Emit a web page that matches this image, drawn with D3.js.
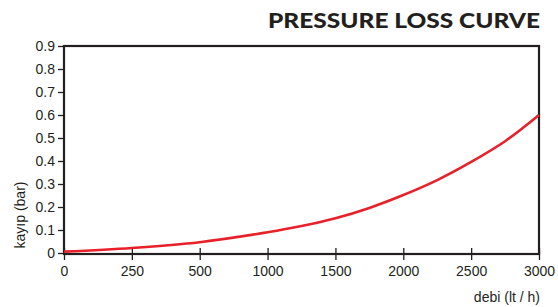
<!DOCTYPE html>
<html>
<head>
<meta charset="utf-8">
<script src="https://cdn.jsdelivr.net/npm/d3@7"></script>
<style>
  body { margin: 0; background: #fff; }
  text { font-family: "Liberation Sans", Arial, sans-serif; fill: #231f20; }
</style>
</head>
<body>
<div id="chart"></div>
<script>
// tick values on the x axis (evenly spaced on the page, not linear)
const xTicks = [0, 250, 500, 1000, 1500, 2000, 2500, 3000];
const yTicks = [0, 0.1, 0.2, 0.3, 0.4, 0.5, 0.6, 0.7, 0.8, 0.9];

// flow (lt/h) and loss (bar)
const flow = [0, 250, 500, 1000, 1250, 1500, 1750, 2000, 2250, 2500, 2750, 3000];
const loss = [0.006, 0.022, 0.047, 0.09, 0.117, 0.151, 0.196, 0.252, 0.317, 0.396, 0.486, 0.6];

const W = 558, H = 307;
const mLeft = 64, mRight = 539, mTop = 46, mBottom = 254;

const svg = d3.select("#chart")
  .append("svg")
  .attr("width", W)
  .attr("height", H);

// piecewise scale so every tick gets the same spacing
const x = d3.scaleLinear()
  .domain(xTicks)
  .range(xTicks.map((d, i) => mLeft + i * (mRight - mLeft) / (xTicks.length - 1)));

const y = d3.scaleLinear()
  .domain([0, 0.9])
  .range([253, mTop]);

// title
svg.append("text")
  .attr("x", 540)
  .attr("y", 28)
  .attr("text-anchor", "end")
  .attr("textLength", 272)
  .attr("lengthAdjust", "spacingAndGlyphs")
  .style("font-family", "Lato, 'DejaVu Sans', sans-serif")
  .style("font-weight", 900)
  .style("font-size", "21px")
  .text("PRESSURE LOSS CURVE");

// y axis
const yAxis = svg.append("g")
  .attr("transform", `translate(${mLeft},0)`)
  .call(d3.axisLeft(y).tickValues(yTicks).tickSize(6).tickPadding(3)
    .tickFormat(d => d === 0 ? "0" : d3.format(".1f")(d)));
yAxis.select(".domain").remove();
yAxis.selectAll("line").attr("stroke", "#231f20").attr("stroke-width", 1.3);
yAxis.selectAll("text").style("font-size", "14px").style("fill", "#231f20");

// x axis, ticks cross the frame
const xAxis = svg.append("g")
  .attr("transform", `translate(0,${mBottom})`)
  .call(d3.axisBottom(x).tickValues(xTicks).tickSize(6).tickPadding(6)
    .tickFormat(d3.format("d")));
xAxis.select(".domain").remove();
xAxis.selectAll("line").attr("y1", -6).attr("stroke", "#231f20").attr("stroke-width", 1.3);
xAxis.selectAll("text").style("font-size", "14px").style("fill", "#231f20");

// frame
svg.append("rect")
  .attr("x", mLeft)
  .attr("y", mTop)
  .attr("width", mRight - mLeft)
  .attr("height", mBottom - mTop)
  .attr("fill", "none")
  .attr("stroke", "#231f20")
  .attr("stroke-width", 2.2);

// curve
const line = d3.line()
  .x((d, i) => x(flow[i]))
  .y(d => y(d))
  .curve(d3.curveCatmullRom);

svg.append("path")
  .attr("d", line(loss))
  .attr("fill", "none")
  .attr("stroke", "#e8202a")
  .attr("stroke-width", 2.6);

// axis labels
svg.append("text")
  .attr("x", 540)
  .attr("y", 302)
  .attr("text-anchor", "end")
  .style("font-size", "14px")
  .text("debi (lt / h)");

svg.append("text")
  .attr("transform", "translate(25,215) rotate(-90)")
  .attr("text-anchor", "middle")
  .style("font-size", "14px")
  .text("kayıp (bar)");
</script>
</body>
</html>
